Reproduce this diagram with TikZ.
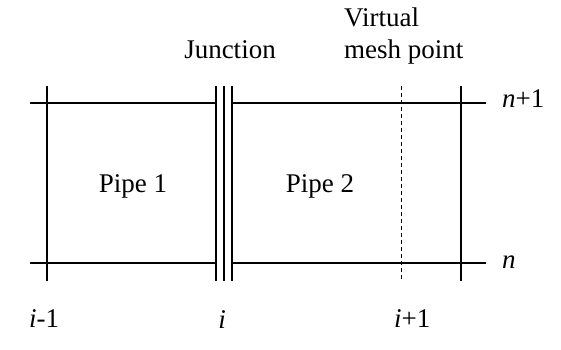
\documentclass[tikz,border=0pt]{standalone}
\usepackage{fontspec}
\setmainfont{Liberation Serif}
\usepackage{tikz}
\usetikzlibrary{positioning,calc}
\newcommand{\idx}[1]{\textit{#1}}

\begin{document}
\begin{tikzpicture}[x=1pt,y=-1pt,
  gridline/.style={line width=1.1pt,draw=black},
  virtline/.style={gridline,line width=0.9pt,dash pattern=on 4pt off 3pt},
  lbl/.style={font=\rmfamily\fontsize{27}{32}\selectfont,inner sep=0pt}]
  \useasboundingbox (0,0) rectangle (561,349);
  % mesh levels n+1 and n
  \coordinate (ltop) at (30,103);  \coordinate (jltop) at (216,103);
  \coordinate (jrtop) at (232,103); \coordinate (rtop) at (486,103);
  \coordinate (lbot) at (30,263);  \coordinate (jlbot) at (216,263);
  \coordinate (jrbot) at (232,263); \coordinate (rbot) at (486,263);
  \foreach \a/\b in {ltop/jltop,jrtop/rtop,lbot/jlbot,jrbot/rbot} \draw[gridline] (\a) -- (\b);
  % mesh points and junction
  \foreach \x in {47,216,224,232,461} \draw[gridline] (\x,86) -- (\x,281);
  \draw[virtline] (401,86) -- (401,281);
  % labels
  \node[lbl] (pipea) at (133,186) {Pipe 1};
  \node[lbl] (pipeb) at (320,186) {Pipe 2};
  \node[lbl,anchor=base] (junc) at (230,58) {Junction};
  \node[lbl,anchor=base west,align=left] (virt) at (344,58) {Virtual\\mesh point};
  \node[lbl,anchor=base west] (lvlb) at (502,107) {\idx{n}+1};
  \node[lbl,anchor=base west] (lvla) at (502,268) {\idx{n}};
  \node[lbl,anchor=base west] (ptl) at (29,327) {\idx{i}-1};
  \node[lbl,anchor=base] (ptj) at (222,328) {\idx{i}};
  \node[lbl,anchor=base west] (ptr) at (394,327) {\idx{i}+1};
\end{tikzpicture}
\end{document}
